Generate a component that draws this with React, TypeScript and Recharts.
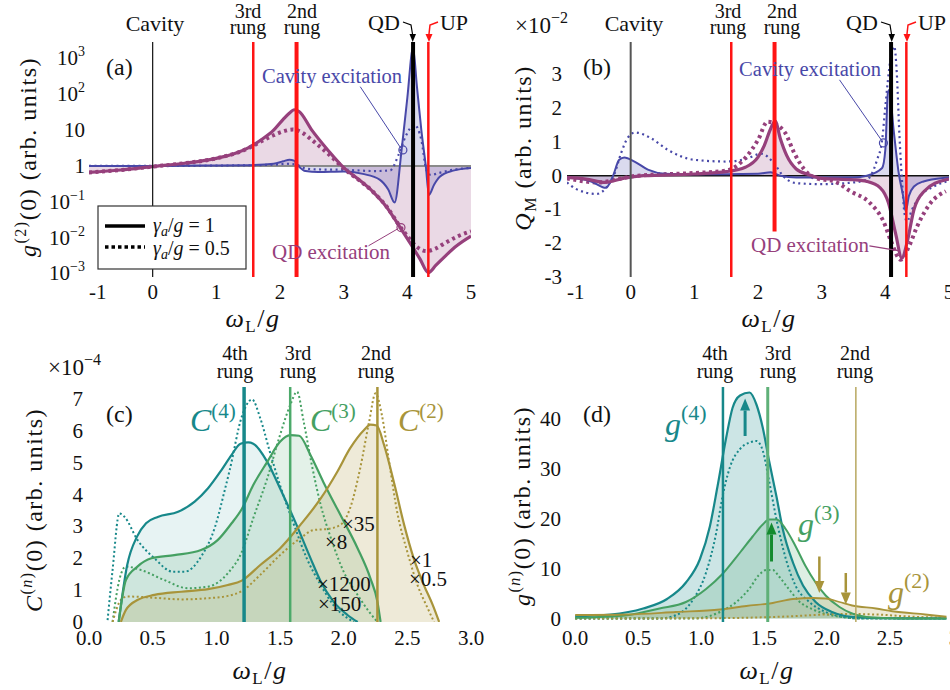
import React from "react";
import {
  Area,
  ComposedChart,
  Line,
  ReferenceDot,
  ReferenceLine,
  XAxis,
  YAxis,
} from "recharts";

const FONT = "\"Liberation Serif\", \"DejaVu Serif\", serif";

const PURPLE = "#96407c";
const BLUE = "#4848a8";
const RED = "#ff1414";
const TEAL = "#17888a";
const GREEN = "#45a062";
const OLIVE = "#a8943a";

// ---------- panel (a): g2(0), log scale ----------
const qdA1X = [-1, -0.5, 0, 0.5, 1.0, 1.3, 1.5, 1.7, 1.9, 2.05, 2.15, 2.22, 2.3, 2.5, 2.75, 3.0, 3.2, 3.46, 3.67, 3.88, 4.09, 4.2, 4.33, 4.45, 4.6, 4.77, 5.0];
const qdA1Y = [0.66, 0.77, 0.96, 1.19, 1.63, 2.25, 3.2, 5.3, 10, 20, 30, 37, 33, 10, 2.8, 0.9, 0.47, 0.19, 0.073, 0.02, 0.0052, 0.0025, 0.00105, 0.0017, 0.0031, 0.0058, 0.011];
const qdA05X = [-1, -0.5, 0, 0.5, 1.0, 1.5, 1.7, 1.9, 2.05, 2.2, 2.35, 2.5, 2.75, 3.0, 3.46, 3.67, 3.88, 4.0, 4.15, 4.3, 4.45, 4.6, 4.8, 5.0];
const qdA05Y = [0.66, 0.77, 0.96, 1.19, 1.63, 3.1, 4.8, 7.2, 9.2, 10.4, 8.5, 5.3, 2.25, 0.86, 0.19, 0.075, 0.021, 0.011, 0.0055, 0.0042, 0.005, 0.0072, 0.011, 0.015];
const cavA1X = [-1, 0, 1, 1.5, 1.9, 2.05, 2.15, 2.22, 2.3, 2.4, 2.6, 3.0, 3.3, 3.57, 3.7, 3.8, 3.91, 4.0, 4.09, 4.15, 4.22, 4.29, 4.34, 4.42, 4.51, 4.72, 5.0];
const cavA1Y = [1.0, 1.0, 1.03, 1.05, 1.15, 1.35, 1.5, 1.4, 0.95, 0.72, 0.68, 0.7, 0.6, 0.41, 0.22, 0.095, 2.8, 80, 2000, 170, 10, 1, 0.155, 0.3, 0.5, 0.74, 0.88];
const cavA05X = [-1, 0, 1, 1.9, 2.1, 2.25, 2.4, 2.6, 3.0, 3.5, 3.73, 3.86, 3.97, 4.11, 4.22, 4.3, 4.37, 4.5, 4.75, 5.0];
const cavA05Y = [1.0, 1.0, 1.02, 1.08, 1.15, 1.1, 0.85, 0.8, 0.78, 0.72, 0.75, 2.0, 6.5, 14, 5.3, 0.77, 0.56, 0.64, 0.8, 0.88];

// ---------- panel (b): Q_M (x1e-2) ----------
const cavB1X = [-1, -0.62, -0.39, -0.28, -0.18, -0.1, 0.06, 0.27, 0.53, 1.0, 2.0, 2.2, 2.35, 2.6, 3.5, 3.71, 3.95, 4.0, 4.04, 4.06, 4.13, 4.21, 4.28, 4.32, 4.37, 4.45, 4.6, 4.94, 5.0];
const cavB1Y = [-0.04, -0.17, -0.36, -0.02, 0.47, 0.54, 0.42, 0.18, 0.06, 0.04, 0.06, 0.1, 0.0, -0.05, -0.05, 0.0, 0.23, 0.77, 2.45, 2.54, 1.36, 0.08, -0.61, -1.06, -0.6, -0.32, -0.17, -0.06, -0.05];
const cavB05X = [-1, -0.86, -0.54, -0.36, -0.26, -0.15, -0.05, 0.07, 0.32, 0.58, 1.0, 1.5, 1.8, 2.05, 2.25, 2.4, 2.6, 3.0, 3.5, 3.71, 3.87, 3.95, 4.0, 4.08, 4.14, 4.18, 4.22, 4.26, 4.3, 4.34, 4.42, 4.55, 4.76, 5.0];
const cavB05Y = [-0.2, -0.39, -0.54, -0.3, 0.03, 0.67, 1.11, 1.28, 1.11, 0.77, 0.47, 0.42, 0.49, 0.65, 0.37, -0.02, -0.22, -0.25, -0.2, -0.12, 0.47, 1.06, 2.05, 3.43, 3.83, 3.04, 1.26, -0.1, -1.1, -1.35, -1.0, -0.6, -0.32, -0.15];
const qdB1X = [-1, -0.7, -0.4, -0.1, 0.2, 1.0, 1.5, 1.8, 2.0, 2.1, 2.2, 2.27, 2.35, 2.45, 2.6, 2.8, 3.0, 3.5, 3.71, 3.92, 4.05, 4.16, 4.26, 4.34, 4.45, 4.61, 4.95, 5.0];
const qdB1Y = [-0.05, -0.1, -0.2, -0.07, 0.0, 0.05, 0.12, 0.25, 0.55, 0.9, 1.4, 1.62, 1.1, 0.6, 0.2, 0.03, -0.08, -0.12, -0.17, -0.36, -0.81, -1.7, -2.44, -1.99, -1.0, -0.46, -0.12, -0.1];
const qdB05X = [-1, -0.5, -0.2, 0.1, 1.0, 1.5, 1.82, 2.0, 2.15, 2.3, 2.43, 2.57, 2.73, 2.9, 3.2, 3.45, 3.76, 3.97, 4.1, 4.24, 4.37, 4.5, 4.71, 4.95];
const qdB05Y = [-0.08, -0.2, -0.1, 0.0, 0.08, 0.15, 0.57, 1.06, 1.6, 1.5, 1.26, 0.67, 0.18, -0.07, -0.17, -0.46, -0.81, -1.35, -1.99, -2.49, -2.1, -1.5, -0.81, -0.46];

// ---------- panel (c): C(n)(0) (x1e-4) ----------
const c4X = [0.233, 0.3, 0.377, 0.448, 0.54, 0.7, 0.83, 0.935, 1.04, 1.12, 1.19, 1.25, 1.29, 1.4, 1.5, 1.63, 1.74, 1.82, 1.92, 2.03, 2.11];
const c4Y = [0, 1.79, 2.68, 3.1, 3.3, 3.46, 3.78, 4.2, 4.77, 5.25, 5.6, 5.64, 5.6, 5.03, 4.2, 3.05, 2.0, 1.27, 0.64, 0.22, 0];
const c4dX = [0.146, 0.185, 0.238, 0.277, 0.382, 0.514, 0.658, 0.75, 0.88, 0.99, 1.066, 1.105, 1.2, 1.28, 1.345, 1.42, 1.5, 1.61, 1.71, 1.82, 1.92, 2.03, 2.08];
const c4dY = [0.06, 1.63, 3.41, 3.31, 2.57, 2.0, 1.58, 1.58, 2.05, 2.99, 4.14, 4.77, 6.45, 6.99, 6.4, 5.35, 4.3, 3.05, 2.0, 1.16, 0.53, 0.12, 0];
const c3X = [0.233, 0.29, 0.38, 0.49, 0.67, 0.88, 1.01, 1.12, 1.2, 1.29, 1.4, 1.5, 1.58, 1.65, 1.74, 1.84, 1.975, 2.11, 2.21, 2.265, 2.29];
const c3Y = [0, 1.32, 1.74, 2.0, 2.1, 2.26, 2.57, 3.1, 3.55, 4.3, 5.03, 5.66, 5.87, 5.85, 5.24, 4.4, 3.36, 2.31, 1.37, 0.64, 0];
const c3dX = [0.185, 0.238, 0.29, 0.41, 0.59, 0.777, 0.935, 1.09, 1.2, 1.29, 1.4, 1.5, 1.58, 1.634, 1.686, 1.75, 1.82, 1.9, 2.0, 2.11, 2.2, 2.265];
const c3dY = [0, 1.32, 1.74, 1.63, 1.32, 1.06, 1.11, 1.53, 2.2, 3.26, 4.51, 5.87, 6.81, 7.23, 6.29, 4.93, 3.67, 2.63, 1.58, 0.85, 0.32, 0];
const c2X = [0.25, 0.29, 0.38, 0.514, 0.724, 0.935, 1.09, 1.2, 1.345, 1.5, 1.66, 1.82, 1.95, 2.05, 2.16, 2.21, 2.26, 2.317, 2.4, 2.475, 2.55, 2.63, 2.7, 2.75];
const c2Y = [0, 0.38, 0.69, 0.85, 0.95, 1.03, 1.16, 1.3, 1.79, 2.31, 3.05, 3.88, 4.72, 5.45, 6.03, 6.2, 6.17, 5.56, 4.3, 3.05, 2.0, 1.16, 0.53, 0];
const c2dX = [0.185, 0.25, 0.3, 0.514, 0.724, 0.91, 1.09, 1.2, 1.345, 1.5, 1.66, 1.765, 1.87, 1.975, 2.05, 2.13, 2.2, 2.25, 2.3, 2.357, 2.42, 2.5, 2.58, 2.66, 2.71];
const c2dY = [0, 0.69, 0.8, 0.76, 0.71, 0.74, 0.82, 0.97, 1.48, 2.1, 2.63, 2.89, 2.92, 3.05, 3.57, 4.83, 6.29, 7.18, 6.5, 5.03, 3.46, 2.2, 1.16, 0.43, 0];

// ---------- panel (d): g(n)(0) ----------
const g4X = [0, 0.28, 0.54, 0.73, 0.88, 0.99, 1.07, 1.13, 1.2, 1.25, 1.31, 1.385, 1.44, 1.49, 1.54, 1.6, 1.65, 1.73, 1.81, 1.91, 2.04, 2.2, 2.52, 2.95];
const g4Y = [0.46, 0.8, 2.0, 3.9, 7.2, 11.8, 18.4, 26.3, 36.2, 42.1, 44.6, 45.2, 42.8, 38.2, 31.6, 24.3, 17.8, 11.2, 6.6, 3.3, 1.3, 0.33, 0.05, 0];
const g4dX = [0, 0.67, 0.8, 0.94, 1.04, 1.12, 1.17, 1.23, 1.31, 1.385, 1.44, 1.49, 1.54, 1.6, 1.675, 1.75, 1.86, 1.99, 2.12, 2.26, 2.95];
const g4dY = [0, 0, 0.66, 3.9, 9.2, 17.1, 24.3, 30.3, 33.9, 35.2, 35.5, 33.6, 27.6, 19.7, 11.8, 6.6, 3.3, 1.3, 0.33, 0, 0];
const g3X = [0, 0.41, 0.67, 0.88, 1.04, 1.17, 1.31, 1.41, 1.49, 1.54, 1.6, 1.675, 1.75, 1.83, 1.91, 1.99, 2.1, 2.2, 2.36, 2.63, 2.95];
const g3Y = [0.13, 0.66, 2.0, 3.3, 5.9, 8.9, 13.2, 16.4, 18.8, 19.8, 19.8, 17.8, 14.5, 10.5, 7.2, 4.6, 2.3, 1.0, 0.2, 0, 0];
const g3dX = [0, 0.94, 1.15, 1.28, 1.385, 1.46, 1.52, 1.57, 1.62, 1.7, 1.78, 1.89, 1.99, 2.12, 2.26, 2.95];
const g3dY = [0, 0, 1.3, 3.3, 6.0, 8.7, 9.7, 9.7, 8.4, 5.8, 3.4, 1.8, 0.9, 0.3, 0, 0];
const g2X = [0, 0.41, 0.8, 1.15, 1.36, 1.57, 1.73, 1.89, 1.99, 2.1, 2.2, 2.39, 2.52, 2.78, 2.95];
const g2Y = [0.7, 0.8, 1.3, 1.8, 2.5, 3.1, 3.9, 4.1, 4.0, 3.3, 2.6, 2.0, 1.45, 0.8, 0.35];
const g2dX = [0, 1.0, 1.36, 1.73, 1.99, 2.15, 2.39, 2.65, 2.95];
const g2dY = [0, 0.05, 0.15, 0.46, 0.8, 0.9, 0.8, 0.4, 0.13];

// axis domains and ticks
const abXDomain = [-1, 5];
const abXTicks = [-1, 0, 1, 2, 3, 4, 5];
const aYDomain = [0.000794, 2880];
const aYTicks = [0.001, 0.01, 0.1, 1, 10, 100, 1000];
const bYDomain = [-3, 3.96];
const bYTicks = [-3, -2, -1, 0, 1, 2, 3];
const cXDomain = [0, 3];
const cXTicks = [0, 0.5, 1, 1.5, 2, 2.5, 3];
const cYDomain = [0, 7.38];
const cYTicks = [0, 1, 2, 3, 4, 5, 6, 7];
const dXDomain = [-0.065, 2.97];
const dXTicks = [0, 0.5, 1, 1.5, 2, 2.5];
const dYDomain = [-0.7, 46.3];
const dYTicks = [0, 10, 20, 30, 40];

const steps = (a: number, b: number, s: number) => {
  const out: number[] = [];
  for (let v = a; v <= b + 1e-9; v += s) out.push(Math.round(v * 1000) / 1000);
  return out;
};
const logMinor: number[] = [];
for (const e of [-4, -3, -2, -1, 0, 1, 2, 3]) {
  for (const m of [2, 3, 4, 5, 6, 7, 8, 9]) {
    const v = m * Math.pow(10, e);
    if (v > aYDomain[0] && v < aYDomain[1]) logMinor.push(v);
  }
}

const pts = (xs: number[], ys: number[]) => xs.map((x, i) => ({ x, y: ys[i] }));

const noTick = () => <g />;

function frameAxes(
  xd: number[],
  yd: number[],
  xMaj: number[],
  xMin: number[],
  yMaj: number[],
  yMin: number[],
  log = false
) {
  const line = { stroke: "#2a2a2a", strokeWidth: 1.4 };
  const base = {
    type: "number" as const,
    allowDataOverflow: true,
    interval: 0 as const,
    tick: noTick,
    tickLine: line,
  };
  const sc = log ? "log" : "linear";
  return [
    <XAxis key="b1" xAxisId="b1" orientation="bottom" mirror height={0} domain={xd} ticks={xMaj} tickSize={7} axisLine={line} {...base} />,
    <XAxis key="b2" xAxisId="b2" orientation="bottom" mirror height={0} domain={xd} ticks={xMin} tickSize={4} axisLine={false} {...base} />,
    <XAxis key="t1" xAxisId="t1" orientation="top" mirror height={0} domain={xd} ticks={xMaj} tickSize={7} axisLine={line} {...base} />,
    <XAxis key="t2" xAxisId="t2" orientation="top" mirror height={0} domain={xd} ticks={xMin} tickSize={4} axisLine={false} {...base} />,
    <YAxis key="l1" yAxisId="l1" orientation="left" mirror width={0} scale={sc} domain={yd} ticks={yMaj} tickSize={7} axisLine={line} {...base} />,
    <YAxis key="l2" yAxisId="l2" orientation="left" mirror width={0} scale={sc} domain={yd} ticks={yMin} tickSize={4} axisLine={false} {...base} />,
    <YAxis key="r1" yAxisId="r1" orientation="right" mirror width={0} scale={sc} domain={yd} ticks={yMaj} tickSize={7} axisLine={line} {...base} />,
    <YAxis key="r2" yAxisId="r2" orientation="right" mirror width={0} scale={sc} domain={yd} ticks={yMin} tickSize={4} axisLine={false} {...base} />,
  ];
}

const tickStyle = { fontFamily: FONT };

const XTick = (props: any) => {
  const { x, y, payload, fmt, startAt } = props;
  const v = payload.value;
  return (
    <text x={x} y={y} dy={16} textAnchor={v === startAt ? "start" : "middle"} style={tickStyle} fontSize={21} fill="#111">
      {fmt ? fmt(v) : String(v)}
    </text>
  );
};

const YTick = (props: any) => {
  const { x, y, payload } = props;
  return (
    <text x={x} y={y} dy={7} textAnchor="end" style={tickStyle} fontSize={21} fill="#111">
      {String(payload.value)}
    </text>
  );
};

const PowTick = (props: any) => {
  const { x, y, payload } = props;
  const e = Math.round(Math.log10(payload.value));
  return (
    <text x={x} y={y} dy={7} textAnchor="end" style={tickStyle} fontSize={21} fill="#111">
      {e === 0 ? "1" : "10"}
      {e !== 0 && e !== 1 && (
        <tspan dy={-9} fontSize={14}>
          {e < 0 ? `\u2212${-e}` : String(e)}
        </tspan>
      )}
    </text>
  );
};

const arrowShape = (color: string, w: number) => (p: any) => {
  const { x1, y1, x2, y2 } = p;
  const dx = x2 - x1;
  const dy = y2 - y1;
  const len = Math.hypot(dx, dy) || 1;
  const ux = dx / len;
  const uy = dy / len;
  const hl = 12;
  const hw = 5;
  const bx = x2 - ux * hl;
  const by = y2 - uy * hl;
  return (
    <g>
      <line x1={x1} y1={y1} x2={bx} y2={by} stroke={color} strokeWidth={w} />
      <polygon
        points={`${x2},${y2} ${bx - uy * hw},${by + ux * hw} ${bx + uy * hw},${by - ux * hw}`}
        fill={color}
      />
    </g>
  );
};

const fixed1 = (v: number) => v.toFixed(1);
const MARGIN_L = { top: 42, right: 9, bottom: 38, left: 49 };
const MARGIN_C = { top: 42, right: 20, bottom: 38, left: 49 };
const MARGIN_R = { top: 42, right: 1, bottom: 38, left: 47 };

const noAnim = { isAnimationActive: false, dot: false, activeDot: false } as const;

function PanelA() {
  return (
    <ComposedChart width={480} height={345} margin={MARGIN_L}>
      {frameAxes(abXDomain, aYDomain, abXTicks, steps(-1, 5, 0.2), aYTicks, logMinor, true)}
      <XAxis dataKey="x" type="number" domain={abXDomain} ticks={abXTicks} allowDataOverflow interval={0} height={30} tickSize={0} tickMargin={6} tickLine={false} axisLine={false} tick={<XTick startAt={-1} fmt={(v: number) => (v < 0 ? `-${-v}` : String(v))} />} />
      <YAxis type="number" scale="log" domain={aYDomain} ticks={aYTicks} allowDataOverflow interval={0} width={40} tickSize={0} tickMargin={4} tickLine={false} axisLine={false} tick={<PowTick />} />
      <Area data={pts(qdA1X, qdA1Y)} dataKey="y" type="monotone" baseValue={1} stroke="none" fill={PURPLE} fillOpacity={0.2} {...noAnim} />
      <Area data={pts(cavA1X, cavA1Y)} dataKey="y" type="monotone" baseValue={1} stroke="none" fill={BLUE} fillOpacity={0.2} {...noAnim} />
      <ReferenceLine y={1} stroke="#8a8a8a" strokeWidth={2} />
      <Line data={pts(cavA05X, cavA05Y)} dataKey="y" type="monotone" stroke={BLUE} strokeWidth={2.2} strokeDasharray="2 3.5" {...noAnim} />
      <Line data={pts(qdA05X, qdA05Y)} dataKey="y" type="monotone" stroke={PURPLE} strokeWidth={4} strokeDasharray="3 3.5" {...noAnim} />
      <Line data={pts(cavA1X, cavA1Y)} dataKey="y" type="monotone" stroke={BLUE} strokeWidth={2} {...noAnim} />
      <Line data={pts(qdA1X, qdA1Y)} dataKey="y" type="monotone" stroke={PURPLE} strokeWidth={3.2} {...noAnim} />
      <ReferenceLine x={0} stroke="#111" strokeWidth={1.2} />
      <ReferenceLine x={1.58} stroke={RED} strokeWidth={2.5} />
      <ReferenceLine x={2.26} stroke={RED} strokeWidth={4} />
      <ReferenceLine x={4.09} stroke="#000" strokeWidth={4} />
      <ReferenceLine x={4.33} stroke={RED} strokeWidth={2.5} />
      <ReferenceLine segment={[{ x: 3.26, y: 163 }, { x: 3.9, y: 3.1 }]} stroke={BLUE} strokeWidth={1} />
      <ReferenceDot x={3.93} y={2.8} r={4} fill="none" stroke={BLUE} strokeWidth={1.2} />
      <ReferenceLine segment={[{ x: 3.39, y: 0.0059 }, { x: 3.86, y: 0.018 }]} stroke={PURPLE} strokeWidth={1} />
      <ReferenceDot x={3.9} y={0.019} r={4} fill="none" stroke={PURPLE} strokeWidth={1.2} />
    </ComposedChart>
  );
}

function PanelB() {
  return (
    <ComposedChart width={470} height={345} margin={MARGIN_R}>
      {frameAxes(abXDomain, bYDomain, abXTicks, steps(-1, 5, 0.2), bYTicks, steps(-3, 3.8, 0.2))}
      <XAxis dataKey="x" type="number" domain={abXDomain} ticks={abXTicks} allowDataOverflow interval={0} height={30} tickSize={0} tickMargin={6} tickLine={false} axisLine={false} tick={<XTick startAt={-1} fmt={(v: number) => (v < 0 ? `-${-v}` : String(v))} />} />
      <YAxis type="number" domain={bYDomain} ticks={bYTicks} allowDataOverflow interval={0} width={40} tickSize={0} tickMargin={5} tickLine={false} axisLine={false} tick={<YTick />} />
      <Area data={pts(qdB1X, qdB1Y)} dataKey="y" type="monotone" baseValue={0} stroke="none" fill={PURPLE} fillOpacity={0.2} {...noAnim} />
      <Area data={pts(cavB1X, cavB1Y)} dataKey="y" type="monotone" baseValue={0} stroke="none" fill={BLUE} fillOpacity={0.2} {...noAnim} />
      <ReferenceLine y={0} stroke="#111" strokeWidth={1.5} />
      <Line data={pts(cavB05X, cavB05Y)} dataKey="y" type="monotone" stroke={BLUE} strokeWidth={2.2} strokeDasharray="2 3.5" {...noAnim} />
      <Line data={pts(qdB05X, qdB05Y)} dataKey="y" type="monotone" stroke={PURPLE} strokeWidth={4} strokeDasharray="3 3.5" {...noAnim} />
      <Line data={pts(cavB1X, cavB1Y)} dataKey="y" type="monotone" stroke={BLUE} strokeWidth={2} {...noAnim} />
      <Line data={pts(qdB1X, qdB1Y)} dataKey="y" type="monotone" stroke={PURPLE} strokeWidth={3.2} {...noAnim} />
      <ReferenceLine x={0} stroke="#555" strokeWidth={2} />
      <ReferenceLine x={1.58} stroke={RED} strokeWidth={2.5} />
      <ReferenceLine segment={[{ x: 2.26, y: -1.65 }, { x: 2.26, y: 3.96 }]} stroke={RED} strokeWidth={4} />
      <ReferenceLine x={4.09} stroke="#000" strokeWidth={4} />
      <ReferenceLine x={4.33} stroke={RED} strokeWidth={2.5} />
      <ReferenceLine segment={[{ x: 3.28, y: 2.84 }, { x: 3.94, y: 1.05 }]} stroke={BLUE} strokeWidth={1} />
      <ReferenceDot x={3.97} y={0.97} r={4} fill="none" stroke={BLUE} strokeWidth={1.2} />
      <ReferenceLine segment={[{ x: 3.75, y: -2.08 }, { x: 4.2, y: -2.22 }]} stroke={PURPLE} strokeWidth={1.2} />
    </ComposedChart>
  );
}

function PanelC() {
  return (
    <ComposedChart width={491} height={345} margin={MARGIN_C}>
      {frameAxes(cXDomain, cYDomain, cXTicks, steps(0, 3, 0.1), cYTicks, steps(0, 7.25, 0.25))}
      <XAxis dataKey="x" type="number" domain={cXDomain} ticks={cXTicks} allowDataOverflow interval={0} height={30} tickSize={0} tickMargin={7} tickLine={false} axisLine={false} tick={<XTick fmt={fixed1} />} />
      <YAxis type="number" domain={cYDomain} ticks={cYTicks} allowDataOverflow interval={0} width={40} tickSize={0} tickMargin={6} tickLine={false} axisLine={false} tick={<YTick />} />
      <Area data={pts(c4X, c4Y)} dataKey="y" type="monotone" baseValue={0} stroke="none" fill={TEAL} fillOpacity={0.1} {...noAnim} />
      <Area data={pts(c3X, c3Y)} dataKey="y" type="monotone" baseValue={0} stroke="none" fill={GREEN} fillOpacity={0.15} {...noAnim} />
      <Area data={pts(c2X, c2Y)} dataKey="y" type="monotone" baseValue={0} stroke="none" fill={OLIVE} fillOpacity={0.2} {...noAnim} />
      <Line data={pts(c4dX, c4dY)} dataKey="y" type="monotone" stroke={TEAL} strokeWidth={2} strokeDasharray="2 2.5" {...noAnim} />
      <Line data={pts(c3dX, c3dY)} dataKey="y" type="monotone" stroke={GREEN} strokeWidth={2} strokeDasharray="2 2.5" {...noAnim} />
      <Line data={pts(c2dX, c2dY)} dataKey="y" type="monotone" stroke={OLIVE} strokeWidth={2} strokeDasharray="2 2.5" {...noAnim} />
      <Line data={pts(c4X, c4Y)} dataKey="y" type="monotone" stroke={TEAL} strokeWidth={2.2} {...noAnim} />
      <Line data={pts(c3X, c3Y)} dataKey="y" type="monotone" stroke={GREEN} strokeWidth={2.2} {...noAnim} />
      <Line data={pts(c2X, c2Y)} dataKey="y" type="monotone" stroke={OLIVE} strokeWidth={2.2} {...noAnim} />
      <ReferenceLine x={1.218} stroke={TEAL} strokeWidth={3.5} />
      <ReferenceLine x={1.58} stroke="#4caa6a" strokeWidth={2.5} />
      <ReferenceLine x={2.265} stroke={OLIVE} strokeWidth={2.5} />
    </ComposedChart>
  );
}

function PanelD() {
  return (
    <ComposedChart width={470} height={345} margin={MARGIN_R}>
      {frameAxes(dXDomain, dYDomain, dXTicks, steps(0, 2.9, 0.1), dYTicks, steps(0, 46, 2))}
      <XAxis dataKey="x" type="number" domain={dXDomain} ticks={dXTicks} allowDataOverflow interval={0} height={30} tickSize={0} tickMargin={7} tickLine={false} axisLine={false} tick={<XTick fmt={fixed1} />} />
      <YAxis type="number" domain={dYDomain} ticks={dYTicks} allowDataOverflow interval={0} width={40} tickSize={0} tickMargin={6} tickLine={false} axisLine={false} tick={<YTick />} />
      <Area data={pts(g4X, g4Y)} dataKey="y" type="monotone" baseValue={0} stroke="none" fill={TEAL} fillOpacity={0.22} {...noAnim} />
      <Area data={pts(g3X, g3Y)} dataKey="y" type="monotone" baseValue={0} stroke="none" fill={GREEN} fillOpacity={0.18} {...noAnim} />
      <Area data={pts(g2X, g2Y)} dataKey="y" type="monotone" baseValue={0} stroke="none" fill={OLIVE} fillOpacity={0.2} {...noAnim} />
      <Line data={pts(g4dX, g4dY)} dataKey="y" type="monotone" stroke={TEAL} strokeWidth={2} strokeDasharray="2 2.5" {...noAnim} />
      <Line data={pts(g3dX, g3dY)} dataKey="y" type="monotone" stroke={GREEN} strokeWidth={2} strokeDasharray="2 2.5" {...noAnim} />
      <Line data={pts(g2dX, g2dY)} dataKey="y" type="monotone" stroke={OLIVE} strokeWidth={2} strokeDasharray="2 2.5" {...noAnim} />
      <Line data={pts(g4X, g4Y)} dataKey="y" type="monotone" stroke={TEAL} strokeWidth={2.2} {...noAnim} />
      <Line data={pts(g3X, g3Y)} dataKey="y" type="monotone" stroke={GREEN} strokeWidth={2} {...noAnim} />
      <Line data={pts(g2X, g2Y)} dataKey="y" type="monotone" stroke={OLIVE} strokeWidth={1.8} {...noAnim} />
      <ReferenceLine x={1.174} stroke={TEAL} strokeWidth={2.5} />
      <ReferenceLine x={1.53} stroke="#5fb078" strokeWidth={3} />
      <ReferenceLine x={2.23} stroke="#b8a860" strokeWidth={1.5} />
      <ReferenceLine segment={[{ x: 1.35, y: 36.5 }, { x: 1.35, y: 44 }]} shape={arrowShape(TEAL, 3)} />
      <ReferenceLine segment={[{ x: 1.56, y: 11.4 }, { x: 1.56, y: 19.2 }]} shape={arrowShape("#138a2e", 3)} />
      <ReferenceLine segment={[{ x: 1.94, y: 12.4 }, { x: 1.94, y: 5.1 }]} shape={arrowShape(OLIVE, 2.5)} />
      <ReferenceLine segment={[{ x: 2.15, y: 9.1 }, { x: 2.15, y: 2.8 }]} shape={arrowShape(OLIVE, 2.5)} />
    </ComposedChart>
  );
}

const omega = (x: number, y: number) => (
  <text x={x} y={y} textAnchor="middle" fontSize={26} letterSpacing={1.5}>
    <tspan fontStyle="italic">ω</tspan>
    <tspan dy={5} fontSize={17}>L</tspan>
    <tspan dy={-5}>/</tspan>
    <tspan fontStyle="italic">g</tspan>
  </text>
);

const rung = (x: number, y: number, ord: string, gap: number) => (
  <g>
    <text x={x} y={y} textAnchor="middle" fontSize={20}>{ord}</text>
    <text x={x} y={y + gap} textAnchor="middle" fontSize={20}>rung</text>
  </g>
);

function Overlay() {
  return (
    <svg width={950} height={690} style={{ position: "absolute", left: 0, top: 0, pointerEvents: "none", fontFamily: FONT }} fill="#111">
      {/* panel (a) */}
      <text x={155} y={31} textAnchor="middle" fontSize={22}>Cavity</text>
      {rung(248, 18, "3rd", 16)}
      {rung(302, 18, "2nd", 16)}
      <text x={384} y={30} textAnchor="middle" fontSize={22}>QD</text>
      <path d="M403 22 L411 25 L412.5 34" stroke="#000" strokeWidth={1.2} fill="none" />
      <polygon points="409.5,34 416,34 412.7,42" fill="#000" />
      <text x={454} y={30} textAnchor="middle" fontSize={22}>UP</text>
      <path d="M438 22 L430 25 L429 34" stroke={RED} strokeWidth={1.5} fill="none" />
      <polygon points="425.5,34 432.5,34 429,42" fill={RED} />
      <text x={106} y={75} fontSize={24}>(a)</text>
      <text x={262} y={83} fontSize={20.5} fill={BLUE} textLength={140}>Cavity excitation</text>
      <text x={272} y={259} fontSize={21} fill={PURPLE} textLength={118}>QD excitation</text>
      <rect x={98} y={206} width={148} height={63} fill="#fff" stroke="#333" strokeWidth={1.2} />
      <line x1={105} x2={145} y1={226} y2={226} stroke="#000" strokeWidth={3.5} />
      <line x1={105} x2={145} y1={247} y2={247} stroke="#000" strokeWidth={3.5} strokeDasharray="3.5 3" />
      <text x={153} y={232} fontSize={20}>
        <tspan fontStyle="italic">γ</tspan>
        <tspan dy={4} fontSize={14} fontStyle="italic">a</tspan>
        <tspan dy={-4}>/</tspan>
        <tspan fontStyle="italic">g</tspan> = 1
      </text>
      <text x={153} y={255} fontSize={20}>
        <tspan fontStyle="italic">γ</tspan>
        <tspan dy={4} fontSize={14} fontStyle="italic">a</tspan>
        <tspan dy={-4}>/</tspan>
        <tspan fontStyle="italic">g</tspan> = 0.5
      </text>
      <text transform="translate(36,157) rotate(-90)" textAnchor="middle" fontSize={24} letterSpacing={1.5}>
        <tspan fontStyle="italic">g</tspan>
        <tspan dy={-10} fontSize={16}>(2)</tspan>
        <tspan dy={10}>(0) (arb. units)</tspan>
      </text>
      {omega(253, 327)}

      {/* panel (b) */}
      <text x={515} y={33} fontSize={23}>
        ×10<tspan dy={-10} fontSize={16}>−2</tspan>
      </text>
      <text x={634} y={31} textAnchor="middle" fontSize={22}>Cavity</text>
      {rung(728, 18, "3rd", 16)}
      {rung(782, 18, "2nd", 16)}
      <text x={862} y={30} textAnchor="middle" fontSize={22}>QD</text>
      <path d="M881 22 L890 25 L891.5 34" stroke="#000" strokeWidth={1.2} fill="none" />
      <polygon points="888.5,34 895,34 891.7,42" fill="#000" />
      <text x={932} y={30} textAnchor="middle" fontSize={22}>UP</text>
      <path d="M916 22 L908 25 L907 34" stroke={RED} strokeWidth={1.5} fill="none" />
      <polygon points="903.5,34 910.5,34 907,42" fill={RED} />
      <text x={583} y={75} fontSize={24}>(b)</text>
      <text x={739} y={76} fontSize={20.5} fill={BLUE} textLength={142}>Cavity excitation</text>
      <text x={751} y={252} fontSize={21} fill={PURPLE} textLength={118}>QD excitation</text>
      <text transform="translate(531,148) rotate(-90)" textAnchor="middle" fontSize={24} letterSpacing={1.5}>
        <tspan fontStyle="italic">Q</tspan>
        <tspan dy={5} fontSize={16}>M</tspan>
        <tspan dy={-5}> (arb. units)</tspan>
      </text>
      {omega(769, 327)}

      {/* panel (c) */}
      <text x={48} y={375} fontSize={23}>
        ×10<tspan dy={-10} fontSize={16}>−4</tspan>
      </text>
      {rung(235, 360, "4th", 18)}
      {rung(298, 360, "3rd", 18)}
      {rung(376, 360, "2nd", 18)}
      <text x={106} y={422} fontSize={24}>(c)</text>
      <text x={190} y={431} fontSize={32} fill={TEAL}>
        <tspan fontStyle="italic">C</tspan>
        <tspan dy={-13} fontSize={21}>(4)</tspan>
      </text>
      <text x={310} y={431} fontSize={32} fill={GREEN}>
        <tspan fontStyle="italic">C</tspan>
        <tspan dy={-13} fontSize={21}>(3)</tspan>
      </text>
      <text x={398} y={431} fontSize={32} fill={OLIVE}>
        <tspan fontStyle="italic">C</tspan>
        <tspan dy={-13} fontSize={21}>(2)</tspan>
      </text>
      <text x={342} y={531} fontSize={21}>×35</text>
      <text x={325} y={549} fontSize={21}>×8</text>
      <text x={317} y={591} fontSize={21}>×1200</text>
      <text x={318} y={611} fontSize={21}>×150</text>
      <text x={410} y={567} fontSize={21}>×1</text>
      <text x={409} y={586} fontSize={21}>×0.5</text>
      <text transform="translate(42,510) rotate(-90)" textAnchor="middle" fontSize={24} letterSpacing={1.5}>
        <tspan fontStyle="italic">C</tspan>
        <tspan dy={-10} fontSize={16}>(</tspan>
        <tspan fontSize={16} fontStyle="italic">n</tspan>
        <tspan fontSize={16}>)</tspan>
        <tspan dy={10}>(0) (arb. units)</tspan>
      </text>
      {omega(260, 679)}

      {/* panel (d) */}
      {rung(715, 360, "4th", 18)}
      {rung(778, 360, "3rd", 18)}
      {rung(855, 360, "2nd", 18)}
      <text x={583} y={422} fontSize={24}>(d)</text>
      <text x={665} y={435} fontSize={32} fill={TEAL}>
        <tspan fontStyle="italic">g</tspan>
        <tspan dy={-15} fontSize={22}>(4)</tspan>
      </text>
      <text x={798} y={535} fontSize={32} fill={GREEN}>
        <tspan fontStyle="italic">g</tspan>
        <tspan dy={-15} fontSize={22}>(3)</tspan>
      </text>
      <text x={888} y={603} fontSize={32} fill={OLIVE}>
        <tspan fontStyle="italic">g</tspan>
        <tspan dy={-15} fontSize={22}>(2)</tspan>
      </text>
      <text x={954} y={645} textAnchor="middle" fontSize={21}>3</text>
      <text transform="translate(530,506) rotate(-90)" textAnchor="middle" fontSize={24} letterSpacing={1.5}>
        <tspan fontStyle="italic">g</tspan>
        <tspan dy={-10} fontSize={16}>(</tspan>
        <tspan fontSize={16} fontStyle="italic">n</tspan>
        <tspan fontSize={16}>)</tspan>
        <tspan dy={10}>(0) (arb. units)</tspan>
      </text>
      {omega(767, 679)}
    </svg>
  );
}

export default function App() {
  return (
    <div style={{ position: "absolute", left: 0, top: 0, width: 950, height: 690, background: "#fff", fontFamily: FONT, overflow: "hidden" }}>
      <div style={{ position: "absolute", left: 480, top: 0 }}>
        <PanelB />
      </div>
      <div style={{ position: "absolute", left: 480, top: 345 }}>
        <PanelD />
      </div>
      <div style={{ position: "absolute", left: 0, top: 0 }}>
        <PanelA />
      </div>
      <div style={{ position: "absolute", left: 0, top: 345 }}>
        <PanelC />
      </div>
      <Overlay />
    </div>
  );
}
